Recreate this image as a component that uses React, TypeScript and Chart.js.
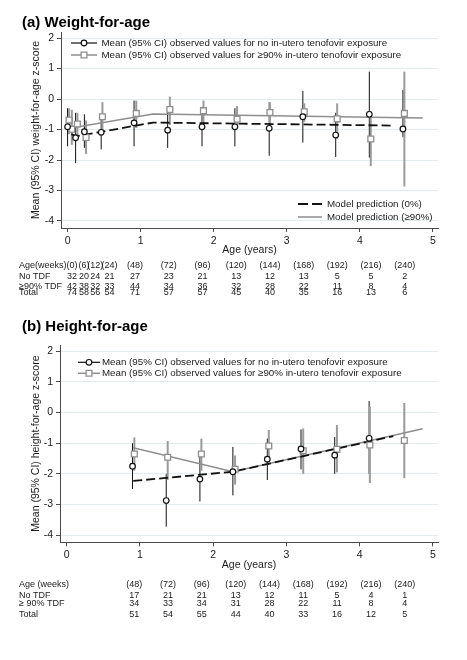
import React, { useEffect, useRef } from "react";
import { Chart, registerables } from "chart.js";
Chart.register(...registerables);

const FONT = "'Liberation Sans', Arial, Helvetica, sans-serif";

const Y_TICKS = [-4, -3, -2, -1, 0, 1, 2];
const X_TICKS = [0, 1, 2, 3, 4, 5];

// ---------- (a) Weight-for-age ----------
const WFA_NO_X = [0, 0.11, 0.23, 0.46, 0.91, 1.37, 1.84, 2.29, 2.76, 3.22, 3.67, 4.13, 4.59];
const WFA_NO_Y = [-0.91, -1.27, -1.07, -1.09, -0.78, -1.02, -0.91, -0.91, -0.96, -0.58, -1.18, -0.5, -0.98];
const WFA_NO_LO = [-1.55, -2.1, -1.6, -1.65, -1.55, -1.6, -1.55, -1.55, -1.86, -1.43, -1.9, -1.92, -1.25];
const WFA_NO_HI = [-0.3, -0.45, -0.5, -0.5, -0.05, -0.45, -0.3, -0.3, -0.1, 0.27, -0.45, 0.9, 0.3];

const WFA_TDF_X = [0.02, 0.058, 0.134, 0.253, 0.477, 0.94, 1.4, 1.86, 2.32, 2.77, 3.24, 3.69, 4.15, 4.61];
const WFA_TDF_Y = [-0.69, -0.99, -0.82, -1.26, -0.58, -0.47, -0.34, -0.38, -0.66, -0.44, -0.42, -0.65, -1.31, -0.47];
const WFA_TDF_LO = [-1.15, -1.5, -1.3, -1.8, -1.05, -0.95, -0.85, -0.85, -0.95, -0.95, -0.75, -1.3, -2.2, -2.87];
const WFA_TDF_HI = [-0.3, -0.35, -0.45, -0.7, -0.1, -0.05, 0.08, -0.05, -0.23, -0.1, -0.14, -0.14, -0.4, 0.9];

const WFA_M0_X = [0.05, 0.12, 1.17, 4.47];
const WFA_M0_Y = [-1.15, -1.22, -0.77, -0.87];
const WFA_M90_X = [0.05, 1.17, 4.86];
const WFA_M90_Y = [-0.95, -0.49, -0.62];

const WFA_WEEKS = ["(0)", "(6)", "(12)", "(24)", "(48)", "(72)", "(96)", "(120)", "(144)", "(168)", "(192)", "(216)", "(240)"];
const WFA_N_NO = [32, 20, 24, 21, 27, 23, 21, 13, 12, 13, 5, 5, 2];
const WFA_N_TDF = [42, 38, 32, 33, 44, 34, 36, 32, 28, 22, 11, 8, 4];
const WFA_N_TOTAL = [74, 58, 56, 54, 71, 57, 57, 45, 40, 35, 16, 13, 6];

// ---------- (b) Height-for-age ----------
const HFA_NO_X = [0.9, 1.36, 1.82, 2.27, 2.74, 3.2, 3.66, 4.13];
const HFA_NO_Y = [-1.75, -2.87, -2.17, -1.93, -1.52, -1.19, -1.39, -0.84];
const HFA_NO_LO = [-2.49, -3.72, -2.9, -2.7, -2.2, -1.85, -2.0, -2.0];
const HFA_NO_HI = [-1.0, -2.0, -1.45, -1.12, -0.85, -0.55, -0.8, 0.37];

const HFA_TDF_X = [0.925, 1.38, 1.84, 2.3, 2.76, 3.23, 3.69, 4.14, 4.61];
const HFA_TDF_Y = [-1.35, -1.46, -1.35, -1.85, -1.09, -1.25, -1.2, -1.06, -0.91];
const HFA_TDF_LO = [-1.9, -2.2, -1.9, -2.35, -1.6, -2.0, -1.95, -2.3, -2.14];
const HFA_TDF_HI = [-0.81, -0.93, -0.85, -1.4, -0.57, -0.52, -0.41, 0.2, 0.31];

const HFA_M0_X = [0.91, 2.27, 4.46];
const HFA_M0_Y = [-2.23, -1.93, -0.77];
const HFA_M90_X = [0.91, 2.27, 4.86];
const HFA_M90_Y = [-1.15, -1.93, -0.53];

const HFA_WEEKS = ["(48)", "(72)", "(96)", "(120)", "(144)", "(168)", "(192)", "(216)", "(240)"];
const HFA_N_NO = [17, 21, 21, 13, 12, 11, 5, 4, 1];
const HFA_N_TDF = [34, 33, 34, 31, 28, 22, 11, 8, 4];
const HFA_N_TOTAL = [51, 54, 55, 44, 40, 33, 16, 12, 5];

// ---------- layout (column x-positions in years for the tables) ----------
const WFA_COL_POS = [0.06, 0.224, 0.379, 0.573, 0.923, 1.385, 1.846, 2.308, 2.769, 3.231, 3.692, 4.154, 4.615];
const HFA_COL_POS = [0.923, 1.385, 1.846, 2.308, 2.769, 3.231, 3.692, 4.154, 4.615];

const BLACK = "#111111";
const GREY = "#8e8e8e";
const GREY_BAR = "#9a9a9a";
const GRID = "#e3ebee";
const AXIS = "#4a4a4a";

const LEG_NO = "Mean (95% CI) observed values for no in-utero tenofovir exposure";
const LEG_TDF = "Mean (95% CI) observed values for \u226590% in-utero tenofovir exposure";

const pts = (xs: number[], ys: number[]) => xs.map((x, i) => ({ x, y: ys[i] }));

type Panel = {
  title: string;
  yTitle: string;
  width: number;
  height: number;
  padLeft: number;
  yAxisWidth: number;
  padRight: number;
  titlePadTop: number;
  titlePadBottom: number;
  padBottom: number;
  xTitlePadBottom: number;
  noX: number[]; noY: number[]; noLo: number[]; noHi: number[];
  tdfX: number[]; tdfY: number[]; tdfLo: number[]; tdfHi: number[];
  m0X: number[]; m0Y: number[]; m90X: number[]; m90Y: number[];
  weeks: string[]; nNo: number[]; nTdf: number[]; nTot: number[]; colPos: number[];
  rowLabels: string[];
  rowY: number[];
  legTop: { dy1: number; dy2: number; x1: number; x2: number; tx: number };
  modelLegend: boolean;
};

function drawCircle(ctx: CanvasRenderingContext2D, x: number, y: number) {
  ctx.beginPath();
  ctx.arc(x, y, 2.8, 0, Math.PI * 2);
  ctx.fillStyle = "#fff";
  ctx.fill();
  ctx.lineWidth = 1.2;
  ctx.strokeStyle = BLACK;
  ctx.stroke();
}
function drawSquare(ctx: CanvasRenderingContext2D, x: number, y: number) {
  const s = 2.9;
  ctx.beginPath();
  ctx.rect(x - s, y - s, 2 * s, 2 * s);
  ctx.fillStyle = "#fff";
  ctx.fill();
  ctx.lineWidth = 1.3;
  ctx.strokeStyle = GREY;
  ctx.stroke();
}

function makeConfig(p: Panel): any {
  const errPlugin = {
    id: "errbars",
    beforeDatasetsDraw(chart: any) {
      const { ctx, scales } = chart;
      const xs = scales.x, ys = scales.y;
      const series = [
        { x: p.noX, lo: p.noLo, hi: p.noHi, color: BLACK, w: 1 },
        { x: p.tdfX, lo: p.tdfLo, hi: p.tdfHi, color: GREY_BAR, w: 2 },
      ];
      ctx.save();
      for (const s of series) {
        ctx.strokeStyle = s.color;
        ctx.lineWidth = s.w;
        s.x.forEach((xv, i) => {
          const px = xs.getPixelForValue(xv);
          ctx.beginPath();
          ctx.moveTo(px, ys.getPixelForValue(s.lo[i]));
          ctx.lineTo(px, ys.getPixelForValue(s.hi[i]));
          ctx.stroke();
        });
      }
      ctx.restore();
    },
  };

  const annoPlugin = {
    id: "anno",
    afterDraw(chart: any) {
      const { ctx, chartArea, scales } = chart;
      const xs = scales.x;
      ctx.save();
      // legend of observed values
      const L = p.legTop;
      ctx.font = `9.75px ${FONT}`;
      ctx.textBaseline = "middle";
      ctx.textAlign = "left";
      const y1 = chartArea.top + L.dy1;
      const y2 = chartArea.top + L.dy2;
      const lx1 = chartArea.left + L.x1, lx2 = chartArea.left + L.x2, tx = chartArea.left + L.tx;
      ctx.lineWidth = 1.2;
      ctx.strokeStyle = BLACK;
      ctx.beginPath(); ctx.moveTo(lx1, y1); ctx.lineTo(lx2, y1); ctx.stroke();
      drawCircle(ctx, (lx1 + lx2) / 2, y1);
      ctx.lineWidth = 1.5;
      ctx.strokeStyle = GREY;
      ctx.beginPath(); ctx.moveTo(lx1, y2); ctx.lineTo(lx2, y2); ctx.stroke();
      drawSquare(ctx, (lx1 + lx2) / 2, y2);
      ctx.fillStyle = "#1a1a1a";
      ctx.fillText(LEG_NO, tx, y1);
      ctx.fillText(LEG_TDF, tx, y2);

      if (p.modelLegend) {
        const m1 = chartArea.bottom - 24, m2 = chartArea.bottom - 11;
        const sx1 = chartArea.right - 140, sx2 = chartArea.right - 116, stx = chartArea.right - 111;
        ctx.lineWidth = 1.8;
        ctx.strokeStyle = BLACK;
        ctx.setLineDash([10, 4]);
        ctx.beginPath(); ctx.moveTo(sx1, m1); ctx.lineTo(sx2, m1); ctx.stroke();
        ctx.setLineDash([]);
        ctx.lineWidth = 1.5;
        ctx.strokeStyle = GREY;
        ctx.beginPath(); ctx.moveTo(sx1, m2); ctx.lineTo(sx2, m2); ctx.stroke();
        ctx.fillStyle = "#1a1a1a";
        ctx.fillText("Model prediction (0%)", stx, m1);
        ctx.fillText("Model prediction (\u226590%)", stx, m2);
      }

      // table
      ctx.font = `9px ${FONT}`;
      ctx.fillStyle = "#1a1a1a";
      ctx.textAlign = "left";
      p.rowLabels.forEach((lab, r) => ctx.fillText(lab, 19, p.rowY[r]));
      ctx.textAlign = "center";
      const rows = [p.weeks, p.nNo.map(String), p.nTdf.map(String), p.nTot.map(String)];
      rows.forEach((row, r) => {
        row.forEach((txt, c) => {
          ctx.fillText(txt, xs.getPixelForValue(p.colPos[c]), p.rowY[r]);
        });
      });
      ctx.restore();
    },
  };

  return {
    type: "scatter",
    data: {
      datasets: [
        {
          label: "no",
          data: pts(p.noX, p.noY),
          pointStyle: "circle",
          pointRadius: 2.8,
          pointBorderWidth: 1.2,
          borderColor: BLACK,
          backgroundColor: "#ffffff",
          showLine: false,
        },
        {
          label: "tdf",
          data: pts(p.tdfX, p.tdfY),
          pointStyle: "rect",
          pointRadius: 4.1,
          pointBorderWidth: 1.3,
          borderColor: GREY,
          backgroundColor: "#ffffff",
          showLine: false,
        },
        {
          label: "m0",
          data: pts(p.m0X, p.m0Y),
          showLine: true,
          borderColor: BLACK,
          borderWidth: 1.8,
          borderDash: [9, 4],
          pointRadius: 0,
          fill: false,
        },
        {
          label: "m90",
          data: pts(p.m90X, p.m90Y),
          showLine: true,
          borderColor: GREY,
          borderWidth: 1.5,
          pointRadius: 0,
          fill: false,
        },
      ],
    },
    options: {
      responsive: false,
      animation: false,
      devicePixelRatio: 1,
      layout: { padding: { left: p.padLeft, right: p.padRight, top: 0, bottom: p.padBottom } },
      plugins: {
        legend: { display: false },
        tooltip: { enabled: false },
        title: {
          display: true,
          text: p.title,
          align: "start",
          color: "#000",
          font: { family: FONT, size: 15, weight: "bold" },
          padding: { top: p.titlePadTop, bottom: p.titlePadBottom },
        },
      },
      scales: {
        x: {
          type: "linear",
          min: -0.09,
          max: 5.07,
          afterBuildTicks: (s: any) => { s.ticks = X_TICKS.map((v) => ({ value: v })); },
          afterFit: (s: any) => { s.height = 30; },
          grid: { drawOnChartArea: false, drawTicks: true, tickLength: 4, tickColor: AXIS, tickWidth: 1 },
          border: { display: true, color: AXIS, width: 1 },
          ticks: { color: "#1a1a1a", font: { family: FONT, size: 10.5 }, padding: 3, maxRotation: 0 },
          title: {
            display: true,
            text: "Age (years)",
            color: "#1a1a1a",
            font: { family: FONT, size: 10.5 },
            padding: { top: 0, bottom: p.xTitlePadBottom },
          },
        },
        y: {
          type: "linear",
          min: -4.23,
          max: 2.2,
          afterBuildTicks: (s: any) => { s.ticks = Y_TICKS.map((v) => ({ value: v })); },
          afterFit: (s: any) => { s.width = p.yAxisWidth; },
          grid: { color: GRID, lineWidth: 1, drawTicks: true, tickLength: 4, tickColor: AXIS, tickWidth: 1 },
          border: { display: true, color: AXIS, width: 1 },
          ticks: { color: "#1a1a1a", font: { family: FONT, size: 10.5 }, padding: 3 },
          title: {
            display: true,
            text: p.yTitle,
            color: "#1a1a1a",
            font: { family: FONT, size: 10.5 },
            padding: { top: 8, bottom: 0 },
          },
        },
      },
    },
    plugins: [errPlugin, annoPlugin],
  };
}

const PANEL_A: Panel = {
  title: "(a) Weight-for-age",
  yTitle: "Mean (95% CI) weight-for-age z-score",
  width: 467,
  height: 310,
  padLeft: 22,
  yAxisWidth: 39,
  padRight: 29,
  titlePadTop: 14,
  titlePadBottom: 0,
  padBottom: 52,
  xTitlePadBottom: 2,
  noX: WFA_NO_X, noY: WFA_NO_Y, noLo: WFA_NO_LO, noHi: WFA_NO_HI,
  tdfX: WFA_TDF_X, tdfY: WFA_TDF_Y, tdfLo: WFA_TDF_LO, tdfHi: WFA_TDF_HI,
  m0X: WFA_M0_X, m0Y: WFA_M0_Y, m90X: WFA_M90_X, m90Y: WFA_M90_Y,
  weeks: WFA_WEEKS, nNo: WFA_N_NO, nTdf: WFA_N_TDF, nTot: WFA_N_TOTAL, colPos: WFA_COL_POS,
  rowLabels: ["Age(weeks)", "No TDF", "\u226590% TDF", "Total"],
  rowY: [266, 276.5, 287, 293],
  legTop: { dy1: 11, dy2: 23, x1: 10, x2: 36, tx: 40.5 },
  modelLegend: true,
};

const PANEL_B: Panel = {
  title: "(b) Height-for-age",
  yTitle: "Mean (95% CI) height-for-age z-score",
  width: 467,
  height: 350,
  padLeft: 22,
  yAxisWidth: 38,
  padRight: 29,
  titlePadTop: 7.7,
  titlePadBottom: 9.3,
  padBottom: 87.7,
  xTitlePadBottom: 1.3,
  noX: HFA_NO_X, noY: HFA_NO_Y, noLo: HFA_NO_LO, noHi: HFA_NO_HI,
  tdfX: HFA_TDF_X, tdfY: HFA_TDF_Y, tdfLo: HFA_TDF_LO, tdfHi: HFA_TDF_HI,
  m0X: HFA_M0_X, m0Y: HFA_M0_Y, m90X: HFA_M90_X, m90Y: HFA_M90_Y,
  weeks: HFA_WEEKS, nNo: HFA_N_NO, nTdf: HFA_N_TDF, nTot: HFA_N_TOTAL, colPos: HFA_COL_POS,
  rowLabels: ["Age (weeks)", "No TDF", "\u2265 90% TDF", "Total"],
  rowY: [275, 285.3, 293.7, 304.3],
  legTop: { dy1: 17.3, dy2: 28.3, x1: 18, x2: 40, tx: 42 },
  modelLegend: false,
};

function PanelChart({ panel, top }: { panel: Panel; top: number }) {
  const ref = useRef<HTMLCanvasElement | null>(null);
  useEffect(() => {
    if (!ref.current) return;
    const chart = new Chart(ref.current, makeConfig(panel));
    return () => chart.destroy();
  }, [panel]);
  return (
    <canvas
      ref={ref}
      width={panel.width}
      height={panel.height}
      style={{ position: "absolute", left: 0, top, width: panel.width, height: panel.height }}
    />
  );
}

export default function App() {
  return (
    <div style={{ position: "absolute", left: 0, top: 0, width: 467, height: 660, background: "#fff", overflow: "hidden" }}>
      <PanelChart panel={PANEL_A} top={0} />
      <PanelChart panel={PANEL_B} top={310} />
    </div>
  );
}
